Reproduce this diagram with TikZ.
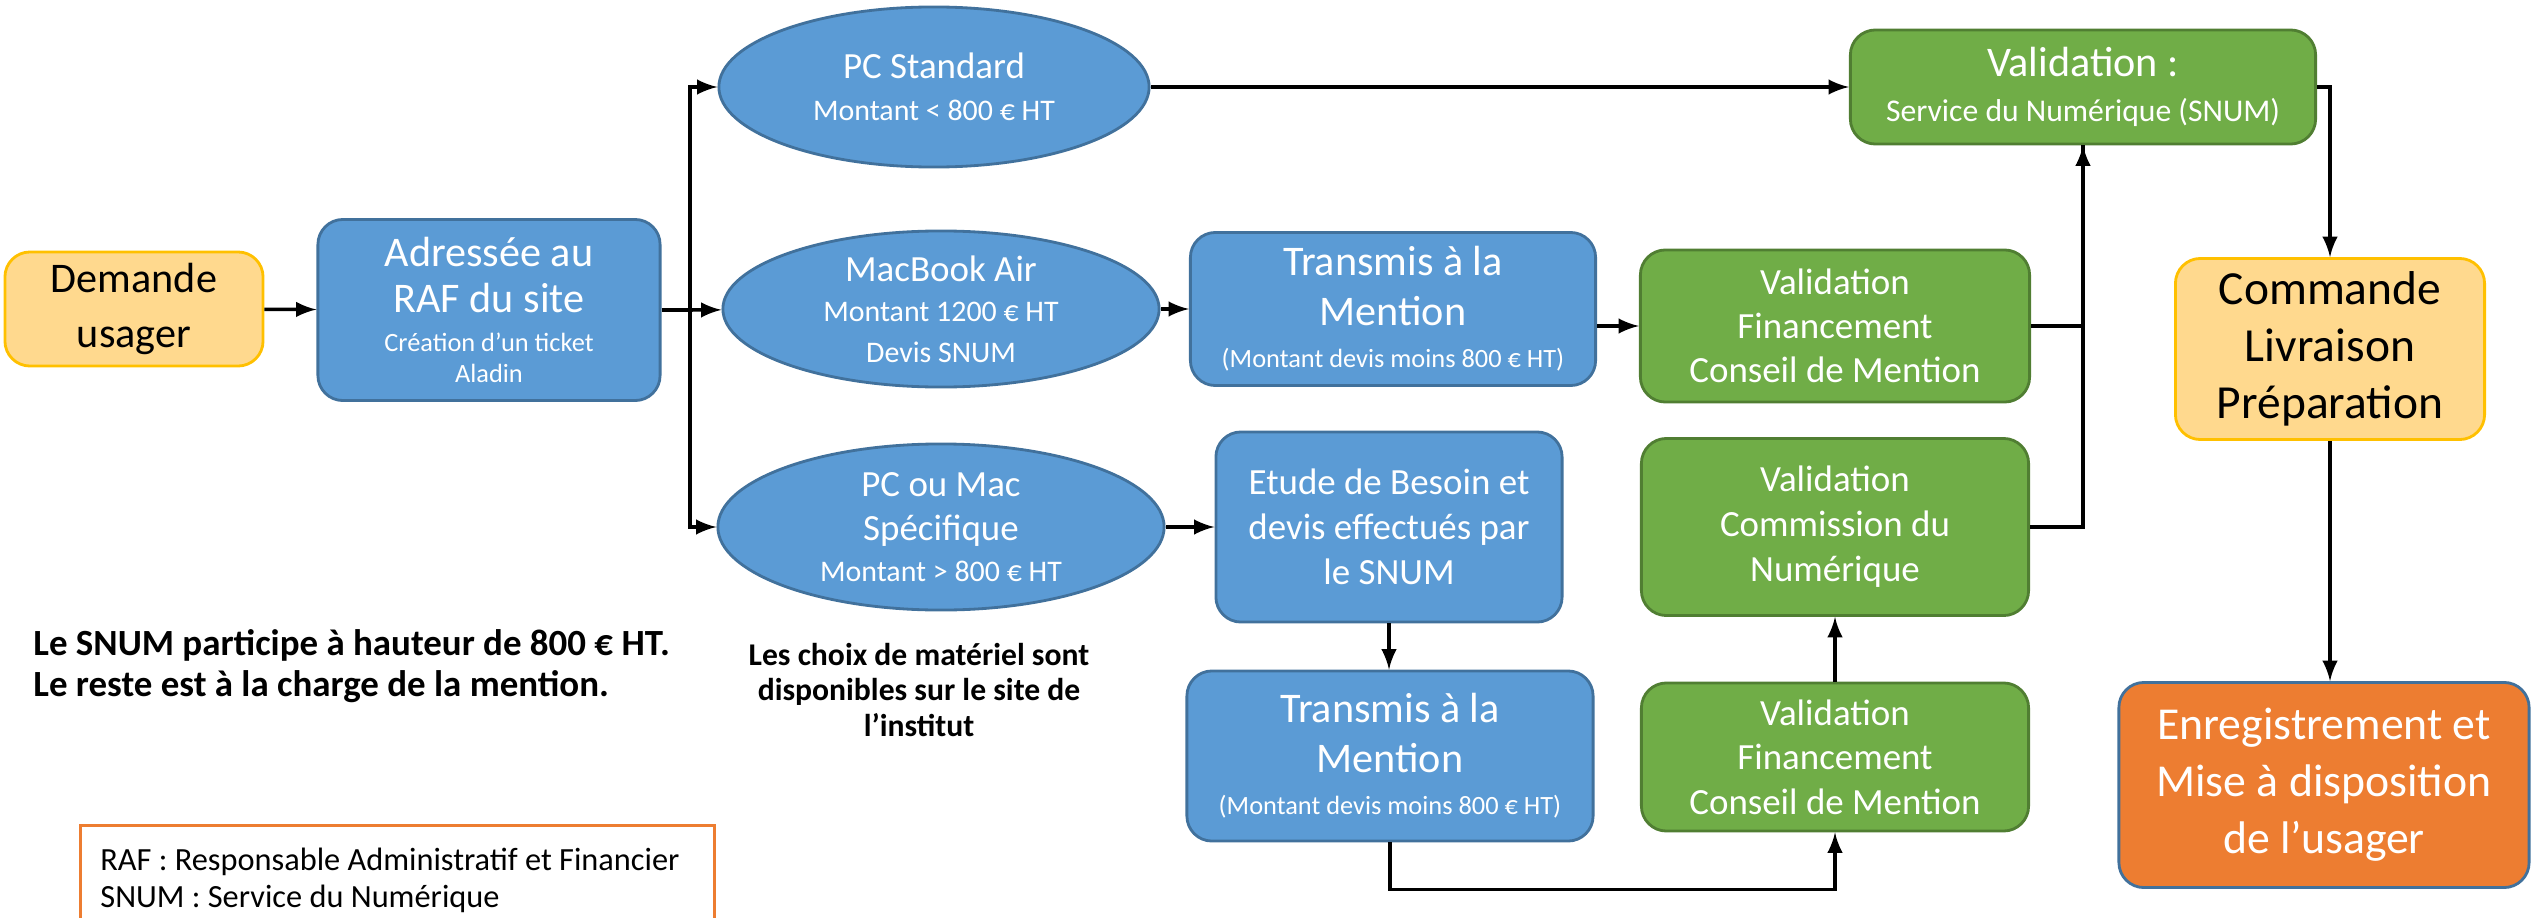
\documentclass[tikz,border=0pt]{standalone}
\usepackage{fontspec}
\setmainfont{Carlito}
\usepackage{xcolor}
\usepackage{tikz}
\usetikzlibrary{shapes.geometric}

\definecolor{bleu}{HTML}{5B9BD5}
\definecolor{bleubord}{HTML}{41719C}
\definecolor{vert}{HTML}{70AD47}
\definecolor{vertbord}{HTML}{507E32}
\definecolor{jaune}{HTML}{FFD98E}
\definecolor{jaunebord}{HTML}{FFC000}
\definecolor{orangeb}{HTML}{ED7D31}

\newcommand{\petit}{\fontsize{7.5}{8.8}\selectfont}
\newcommand{\sous}{\fontsize{8.5}{10}\selectfont}
\frenchspacing

\begin{document}
\begin{tikzpicture}[x=0.01cm, y=-0.01cm, anchor=center,
    boite/.style={rounded corners=0.25cm, line width=0.8pt, align=center, inner sep=0pt},
    bleubox/.style={boite, fill=bleu, draw=bleubord, text=white},
    vertbox/.style={boite, fill=vert, draw=vertbord, text=white},
    jaunebox/.style={boite, fill=jaune, draw=jaunebord, text=black},
    bleuell/.style={ellipse, fill=bleu, draw=bleubord, line width=0.8pt, text=white, align=center, inner sep=0pt},
    lien/.style={->, >=latex, line width=1pt},
    trait/.style={line width=1pt}]
                            \useasboundingbox (0, 0) rectangle (2532, 918);

                            \node (0) at (134, 309) [jaunebox, font=\fontsize{12}{15.4}\selectfont, minimum width=2.58cm, minimum height=1.14cm] {Demande\\usager};
                            \node (1) at (489, 310) [bleubox, font=\fontsize{12}{13.1}\selectfont, minimum width=3.42cm, minimum height=1.81cm] {Adressée au\\RAF du site\\[-2pt]{\petit Création d’un ticket}\\[-4.3pt]{\petit Aladin}};
                            \node (2) at (934, 87) [bleuell, font=\fontsize{10.5}{12}\selectfont, minimum width=4.30cm, minimum height=1.60cm] {PC Standard\\{\sous Montant < 800 € HT}};
                            \node (3) at (941, 309) [bleuell, font=\fontsize{10.5}{11.5}\selectfont, minimum width=4.36cm, minimum height=1.56cm] {MacBook Air\\{\sous Montant 1200 € HT}\\{\sous Devis SNUM}};
                            \node (4) at (941, 527) [bleuell, font=\fontsize{10.5}{12.6}\selectfont, minimum width=4.46cm, minimum height=1.66cm] {PC ou Mac\\Spécifique\\[-1.2pt]{\sous Montant > 800 € HT}};
                            \node (5) at (1393, 309) [bleubox, font=\fontsize{12}{14.2}\selectfont, minimum width=4.05cm, minimum height=1.53cm] {Transmis à la\\Mention\\[-2.2pt]{\petit (Montant devis moins 800 € HT)}};
                            \node (6) at (1835, 326) [vertbox, font=\fontsize{10.5}{12.6}\selectfont, minimum width=3.89cm, minimum height=1.52cm] {Validation\\Financement\\Conseil de Mention};
                            \node (7) at (2083, 87) [vertbox, font=\fontsize{12}{12.8}\selectfont, minimum width=4.65cm, minimum height=1.14cm] {Validation :\\{\fontsize{9}{11}\selectfont Service du Numérique (SNUM)}};
                            \node (8) at (1389, 527) [bleubox, font=\fontsize{10.5}{12.8}\selectfont, minimum width=3.46cm, minimum height=1.90cm] {Etude de Besoin et\\devis effectués par\\le SNUM};
                            \node (9) at (1835, 527) [vertbox, font=\fontsize{10.5}{12.8}\selectfont, minimum width=3.87cm, minimum height=1.77cm] {Validation\\Commission du\\Numérique};
                            \node (10) at (1390, 756) [bleubox, font=\fontsize{12}{14.2}\selectfont, minimum width=4.06cm, minimum height=1.70cm] {Transmis à la\\Mention\\[-2.2pt]{\petit (Montant devis moins 800 € HT)}};
                            \node (11) at (1835, 757) [vertbox, font=\fontsize{10.5}{12.6}\selectfont, minimum width=3.87cm, minimum height=1.48cm] {Validation\\Financement\\Conseil de Mention};
                            \node (12) at (2330, 349) [jaunebox, font=\fontsize{13.5}{16.2}\selectfont, minimum width=3.09cm, minimum height=1.81cm] {Commande\\Livraison\\Préparation};
                            \node (13) at (2324, 785) [boite, fill=orangeb, draw=bleubord, text=white, font=\fontsize{13}{16.2}\selectfont, minimum width=4.10cm, minimum height=2.05cm] {Enregistrement et\\Mise à disposition\\de l’usager};
                            \node (14) at (21, 666) [anchor=west, align=left, font=\fontsize{10.5}{11.8}\selectfont\bfseries] {Le SNUM participe à hauteur de 800 € HT.\\Le reste est à la charge de la mention.};
                            \node (15) at (919, 690) [align=center, font=\fontsize{9}{10.2}\selectfont\bfseries] {Les choix de matériel sont\\disponibles sur le site de\\l’institut};
                            \node (16) at (79, 824) [anchor=north west, draw=orangeb, line width=0.8pt, text width=5.94cm, inner xsep=0.2cm, minimum height=1.1cm, align=flush left, font=\fontsize{9.2}{10.6}\selectfont] {RAF : Responsable Administratif et Financier\\SNUM : Service du Numérique};

                            \coordinate (j) at (690, 310);

                            \draw[lien] (0) -- (1);
                            \draw[trait] (1) -- (j);
                            \draw[lien] (j) |- (2);
                            \draw[lien] (j) -- (3);
                            \draw[lien] (j) |- (4);
                            \draw[lien] (2) -- (7);
                            \draw[lien] (3) -- (5);
                            \draw[lien] (5.east |- 6.west) -- (6.west);
                            \draw[trait] (6) -| (7);
                            \draw[lien] (9) -| (7);
                            \draw[lien] (7) -| (12);
                            \draw[lien] (12) -- (12 |- 13.north);
                            \draw[lien] (4) -- (8);
                            \draw[lien] (8) -- (8 |- 10.north);
                            \draw[lien] (10.south) -- ++(0, 47) -| (11.south);
                            \draw[lien] (11) -- (9);
                        \end{tikzpicture}
\end{document}
